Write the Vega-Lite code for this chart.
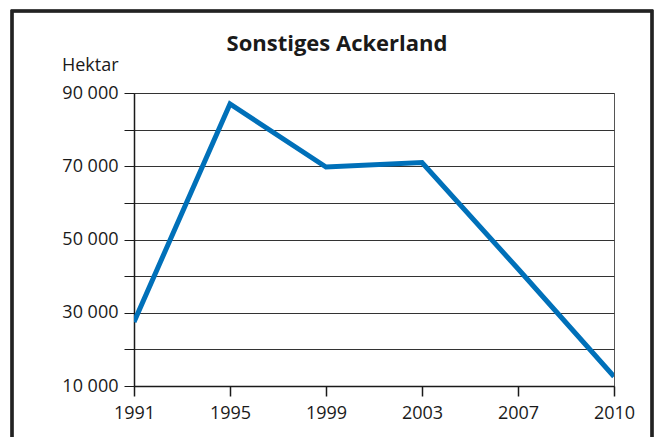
{
  "$schema": "https://vega.github.io/schema/vega-lite/v6.json",
  "autosize": "none",
  "width": 480,
  "height": 293,
  "padding": {"left": 134, "top": 93, "right": 43, "bottom": 51},
  "background": "white",
  "title": {
    "text": "Sonstiges Ackerland",
    "font": "Open Sans",
    "fontSize": 22,
    "fontWeight": "bold",
    "color": "#1a1a1a",
    "anchor": "middle",
    "frame": "group",
    "baseline": "alphabetic",
    "dx": -37,
    "offset": -63
  },
  "data": {
    "values": [
      {"Jahr": "1991", "Hektar": 27500},
      {"Jahr": "1995", "Hektar": 87000},
      {"Jahr": "1999", "Hektar": 69800},
      {"Jahr": "2003", "Hektar": 71000},
      {"Jahr": "2007", "Hektar": 42000},
      {"Jahr": "2010", "Hektar": 12600}
    ]
  },
  "config": {
    "view": {"stroke": "#555", "strokeWidth": 1},
    "font": "Open Sans"
  },
  "layer": [
    {
      "mark": {"type": "line", "color": "#0070b9", "strokeWidth": 5, "strokeJoin": "miter", "clip": true},
      "encoding": {
        "x": {
          "field": "Jahr",
          "type": "ordinal",
          "scale": {"type": "point", "padding": 0},
          "axis": {
            "title": null,
            "labelAngle": 0,
            "labelFont": "Open Sans",
            "labelFontSize": 18,
            "labelColor": "#1a1a1a",
            "labelPadding": 8,
            "tickSize": 10,
            "tickColor": "#1a1a1a",
            "tickWidth": 1.5,
            "domainColor": "#1a1a1a",
            "domainWidth": 1.5,
            "grid": false
          }
        },
        "y": {
          "field": "Hektar",
          "type": "quantitative",
          "scale": {"domain": [10000, 90000], "nice": false, "zero": false},
          "axis": {
            "title": "Hektar",
            "titleAngle": 0,
            "titleAlign": "right",
            "titleBaseline": "alphabetic",
            "titleX": -16,
            "titleY": -23,
            "titleFont": "Open Sans",
            "titleFontSize": 18,
            "titleFontWeight": "normal",
            "titleColor": "#1a1a1a",
            "values": [10000, 20000, 30000, 40000, 50000, 60000, 70000, 80000, 90000],
            "labelExpr": "(datum.value / 10000) % 2 == 1 ? replace(format(datum.value, ','), ',', ' ') : ''",
            "labelFont": "Open Sans",
            "labelFontSize": 18,
            "labelColor": "#1a1a1a",
            "labelPadding": 6,
            "tickSize": 10,
            "tickColor": "#1a1a1a",
            "tickWidth": 1,
            "domainColor": "#1a1a1a",
            "domainWidth": 1.5,
            "grid": true,
            "gridColor": "#333",
            "gridWidth": 1,
            "gridOpacity": 1
          }
        }
      }
    },
    {
      "mark": {"type": "rect", "fill": null, "stroke": "#222", "strokeWidth": 2.5, "clip": false},
      "encoding": {
        "x": {"value": -122},
        "x2": {"value": 518},
        "y": {"value": -82},
        "y2": {"value": 360}
      }
    }
  ]
}
